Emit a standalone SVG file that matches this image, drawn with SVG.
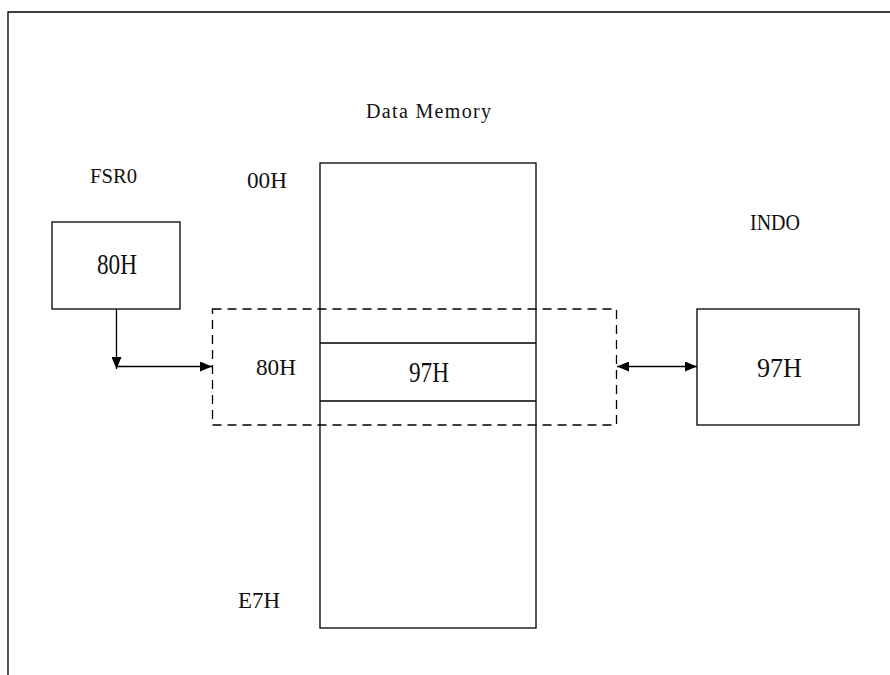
<svg xmlns="http://www.w3.org/2000/svg" width="890" height="675" viewBox="0 0 890 675">
<defs>
<style>
.ln{fill:none;stroke:#000;stroke-width:1.3}
.dash{fill:none;stroke:#000;stroke-width:1.3;stroke-dasharray:9,6}
.box{fill:#fff;stroke:#000;stroke-width:1.3}
.cond{font-family:"Liberation Serif",serif;fill:#111}
.serif{font-family:"Liberation Serif",serif;fill:#111}
</style>
<marker id="ah" viewBox="0 0 12 10" refX="12" refY="5" markerWidth="12" markerHeight="10" markerUnits="userSpaceOnUse" orient="auto-start-reverse">
<path d="M0,0 L12,5 L0,10 z" fill="#000"/>
</marker>
</defs>
<rect width="890" height="675" fill="#fff"/>
<g id="frame">
<path class="ln" d="M8,675 V12 H890" stroke-width="1.6"/>
</g>
<text class="cond" x="366" y="118" font-size="20" textLength="125" lengthAdjust="spacing">Data Memory</text>
<g id="memory">
<rect class="box" x="320" y="163" width="216" height="465"/>
<line class="ln" x1="320" y1="343" x2="536" y2="343"/>
<line class="ln" x1="320" y1="401" x2="536" y2="401"/>
<text class="serif" x="409" y="382" font-size="29" textLength="40" lengthAdjust="spacingAndGlyphs">97H</text>
<text class="serif" x="247" y="188" font-size="23" textLength="40" lengthAdjust="spacingAndGlyphs">00H</text>
<text class="serif" x="256" y="375" font-size="23" textLength="40" lengthAdjust="spacingAndGlyphs">80H</text>
<text class="serif" x="238" y="608" font-size="23" textLength="42" lengthAdjust="spacingAndGlyphs">E7H</text>
</g>
<g id="window">
<rect class="dash" x="212.5" y="309" width="404" height="116"/>
</g>
<g id="fsr0">
<text class="cond" x="90" y="183" font-size="21" textLength="47" lengthAdjust="spacingAndGlyphs">FSR0</text>
<rect class="box" x="52" y="222" width="128" height="87"/>
<text class="serif" x="97" y="274" font-size="29" textLength="40" lengthAdjust="spacingAndGlyphs">80H</text>
</g>
<g id="ind0">
<text class="cond" x="750" y="230" font-size="23" textLength="50" lengthAdjust="spacingAndGlyphs">INDO</text>
<rect class="box" x="697" y="309" width="162" height="116"/>
<text class="serif" x="757" y="377" font-size="28" textLength="45" lengthAdjust="spacingAndGlyphs">97H</text>
</g>
<g id="connectors">
<line class="ln" x1="116.5" y1="309" x2="116.5" y2="369" marker-end="url(#ah)"/>
<line class="ln" x1="116.5" y1="366.5" x2="212" y2="366.5" marker-end="url(#ah)"/>
<line class="ln" x1="617" y1="366.5" x2="697" y2="366.5" marker-start="url(#ah)" marker-end="url(#ah)"/>
</g>
</svg>
